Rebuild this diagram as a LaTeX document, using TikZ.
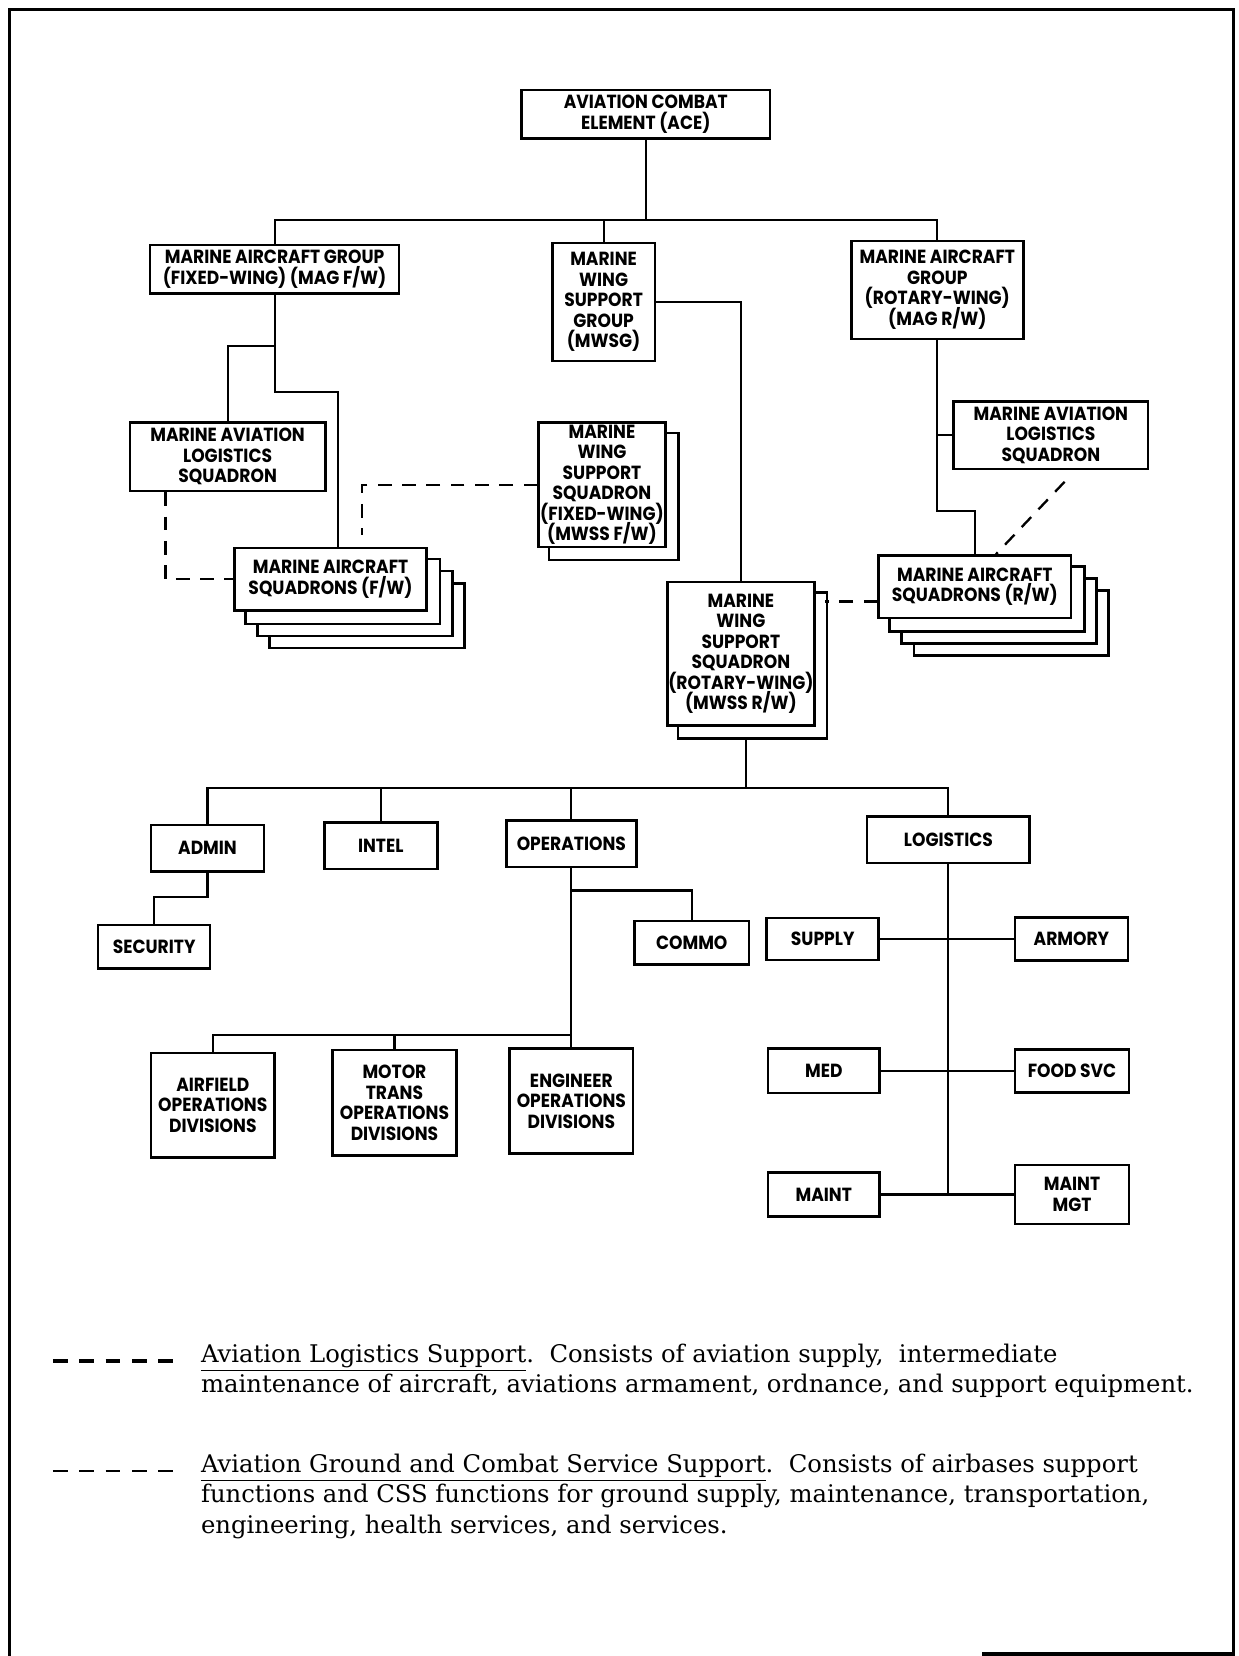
\documentclass[tikz,border=0pt]{standalone}
\usepackage{fontspec}
\newfontfamily\orgfont[FakeStretch=0.9]{Poppins}
\newfontfamily\notefont{DejaVu Serif}
\newcommand\orgsize{\fontsize{9}{9.7}\selectfont\setlength{\lineskiplimit}{-20pt}\setlength{\lineskip}{0pt}}
\usetikzlibrary{backgrounds}

\begin{document}
\begin{tikzpicture}[
  x=0.5pt, y=-0.5pt,
  unit/.style={rectangle, draw, line width=1.2pt, fill=white, align=center, inner sep=0pt,
               font=\orgfont\bfseries\orgsize},
  sz/.style 2 args={minimum width=#1*0.5pt, minimum height=#2*0.5pt},
  sheet/.style={draw, line width=1.2pt, fill=white},
  link/.style={line width=1pt},
  alsdash/.style={line width=1.1pt, dash pattern=on 6.5pt off 5pt},
  gdash/.style={line width=1pt, dash pattern=on 6.5pt off 5pt},
  note/.style={font=\notefont\fontsize{11.5}{14.5}\selectfont, align=left,
               anchor=north west, inner sep=0pt}
]
\useasboundingbox (0,0) rectangle (1173,1568);
\draw[line width=1.6pt] (9,1568) |- (1168,9) |- (930,1566);

\node[unit, sz={235}{46}]  (ace)    at (611.5,108)  {AVIATION COMBAT\\ELEMENT (ACE)};
\node[unit, sz={236}{46}]  (magfw)  at (260,255)    {MARINE AIRCRAFT GROUP\\(FIXED-WING) (MAG F/W)};
\node[unit, sz={97}{112}]  (mwsg)   at (571.5,286)  {MARINE\\WING\\SUPPORT\\GROUP\\(MWSG)};
\node[unit, sz={163}{93}]  (magrw)  at (887.5,274.5){MARINE AIRCRAFT\\GROUP\\(ROTARY-WING)\\(MAG R/W)};
\node[unit, sz={185}{65}]  (malsfw) at (215.5,432.5){MARINE AVIATION\\LOGISTICS\\SQUADRON};
\node[unit, sz={182}{59}]  (masfw)  at (313,548.5)  {MARINE AIRCRAFT\\SQUADRONS (F/W)};
\node[unit, sz={120}{118}] (mwssfw) at (570,459)    {MARINE\\WING\\SUPPORT\\SQUADRON\\(FIXED-WING)\\(MWSS F/W)};
\node[unit, sz={139}{136}] (mwssrw) at (701.5,619)  {MARINE\\WING\\SUPPORT\\SQUADRON\\(ROTARY-WING)\\(MWSS R/W)};
\node[unit, sz={184}{64}]  (malsrw) at (995,412)    {MARINE AVIATION\\LOGISTICS\\SQUADRON};
\node[unit, sz={182}{59}]  (masrw)  at (923,555.5)  {MARINE AIRCRAFT\\SQUADRONS (R/W)};

\node[unit, sz={107}{44}]  (admin)    at (196.5,803)  {ADMIN};
\node[unit, sz={107}{44}]  (intel)    at (360.5,801)  {INTEL};
\node[unit, sz={123}{44}]  (ops)      at (541,799)    {OPERATIONS};
\node[unit, sz={154}{44}]  (logs)     at (898,795)    {LOGISTICS};
\node[unit, sz={106}{41}]  (security) at (146,896.5)  {SECURITY};
\node[unit, sz={108}{41}]  (commo)    at (655,892.5)  {COMMO};
\node[unit, sz={117}{99}]  (airfield) at (201.5,1046.5){AIRFIELD\\OPERATIONS\\DIVISIONS};
\node[unit, sz={117}{100}] (motor)    at (373.5,1044) {MOTOR\\TRANS\\OPERATIONS\\DIVISIONS};
\node[unit, sz={117}{99}]  (engr)     at (541,1042.5) {ENGINEER\\OPERATIONS\\DIVISIONS};
\node[unit, sz={106}{40}]  (supply)   at (779,889)    {SUPPLY};
\node[unit, sz={107}{41}]  (armory)   at (1014.5,889) {ARMORY};
\node[unit, sz={106}{42}]  (med)      at (780,1014)   {MED};
\node[unit, sz={108}{41}]  (food)     at (1015,1014)  {FOOD SVC};
\node[unit, sz={106}{42}]  (maint)    at (780,1131)   {MAINT};
\node[unit, sz={108}{56}]  (maintmgt) at (1015,1131)  {MAINT\\MGT};

\begin{scope}[on background layer]
  \foreach \k in {3,2,1} {
    \draw[sheet] ([shift={(\k*11.5,\k*11.5)}]masfw.north west) rectangle ([shift={(\k*11.5,\k*11.5)}]masfw.south east);
    \draw[sheet] ([shift={(\k*11.5,\k*11.5)}]masrw.north west) rectangle ([shift={(\k*11.5,\k*11.5)}]masrw.south east);
  }
  \draw[sheet] ([shift={(11,11)}]mwssfw.north west) rectangle ([shift={(11,11)}]mwssfw.south east);
  \draw[sheet] ([shift={(11,11)}]mwssrw.north west) rectangle ([shift={(11,11)}]mwssrw.south east);
\end{scope}

\draw[link] (ace.south) -- ++(0,76) coordinate (bus1);
\draw[link] (magfw.north) |- (magrw.north |- bus1) -- (magrw.north);
\draw[link] (mwsg.north) -- (mwsg.north |- bus1);
\draw[link] (mwsg.east) -| (mwssrw.north);
\draw[link] (magfw.south) -- ++(0,92) -| ([xshift=3.5pt]masfw.north);
\draw[link] (magfw.south) ++(0,48) -| (malsfw.north);
\draw[link] (magrw.south) -- ++(0,162) -| (masrw.north);
\draw[link] (malsrw.west) -- (malsrw.west -| magrw.south);
\draw[alsdash] (malsfw.south west) ++(35,0) |- (masfw.west);
\draw[alsdash] ([shift={(13,11)}]malsrw.south) -- ([shift={(20,0)}]masrw.north);
\draw[gdash] (mwssfw.west) -| ++(-166,48);
\draw[gdash] ([yshift=-7pt]masrw.west) -- ++(-50,0);

\draw[link] ([shift={(5,11)}]mwssrw.south) -- ++(0,47) coordinate (bus2);
\draw[link] (admin.north) |- (logs.north |- bus2) -- (logs.north);
\draw[link] (intel.north) -- (intel.north |- bus2);
\draw[link] (ops.north) -- (ops.north |- bus2);
\draw[link] (admin.south) -- ++(0,23) -| (security.north);
\draw[link] (ops.south) -- (engr.north);
\draw[link] (ops.south) ++(0,21) -| (commo.north);
\draw[link] (ops.south) ++(0,158) coordinate (bus3) -| (airfield.north);
\draw[link] (motor.north) -- (motor.north |- bus3);
\draw[link] (logs.south) -- (logs.south |- maint.east);
\draw[link] (supply.east) -- (armory.west);
\draw[link] (med.east) -- (food.west);
\draw[link] (maint.east) -- (maintmgt.west);

\coordinate (lga) at (50,1289);
\coordinate (lgb) at (50,1393);
\draw[line width=1.8pt, dash pattern=on 7pt off 5.5pt] (lga) -- ++(125,0);
\draw[line width=1pt, dash pattern=on 7pt off 5.5pt] (lgb) -- ++(125,0);
\node[note] (lgda) at (190,1272) {\underline{Aviation Logistics Support}.\ \ Consists of aviation supply,\ \ intermediate\\maintenance of aircraft, aviations armament, ordnance, and support equipment.};
\node[note] (lgdb) at (190,1376) {\underline{Aviation Ground and Combat Service Support}.\ \ Consists of airbases support\\functions and CSS functions for ground supply, maintenance, transportation,\\engineering, health services, and services.};
\end{tikzpicture}
\end{document}
